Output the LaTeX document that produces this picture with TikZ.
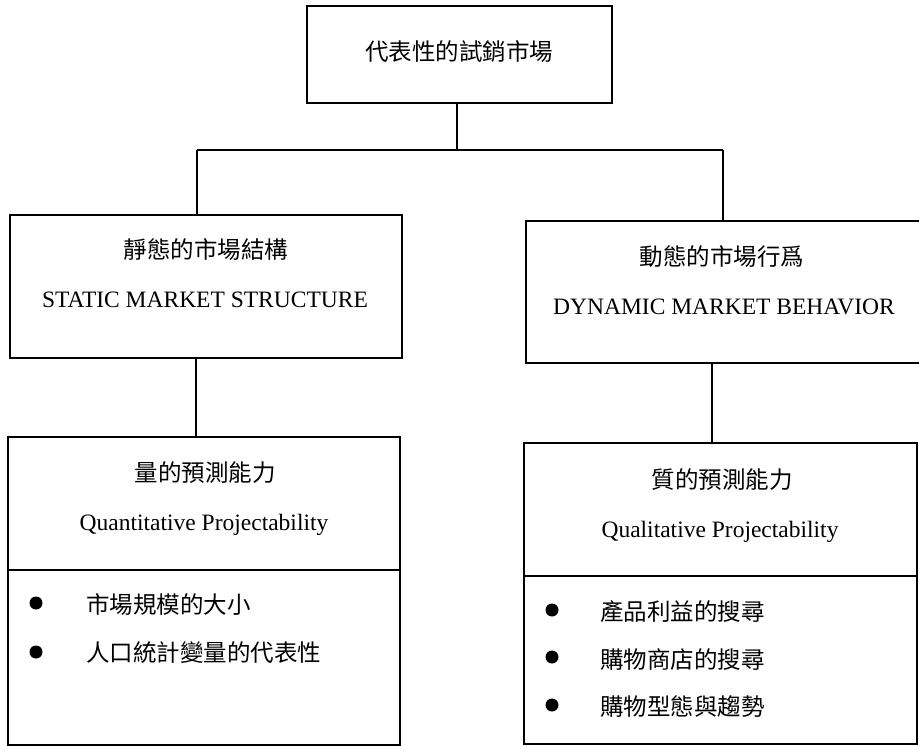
\documentclass[tikz,border=0pt]{standalone}
\usepackage{fontspec}
\setmainfont{Liberation Serif}
\newfontfamily\cjk{Noto Sans CJK TC}
\begin{document}
\begin{tikzpicture}[x=1pt,y=-1pt,
  box/.style={draw=black,line width=1.3pt,minimum width=#1,inner sep=0pt},
  conn/.style={draw=black,line width=1.3pt},
  cjkt/.style={inner sep=0pt,font=\cjk\fontsize{23.5}{26}\selectfont},
  latt/.style={inner sep=0pt,anchor=base,font=\fontsize{23.5}{26}\selectfont},
  itemt/.style={inner sep=0pt,anchor=west,font=\cjk\fontsize{23.5}{26}\selectfont},
  dot/.style={circle,fill=black,inner sep=0pt,minimum size=13pt}]
\useasboundingbox (0,0) rectangle (919,746);
% boxes
\node[box=305pt,minimum height=97pt] (top) at (459.5,54.5) {};
\node[box=392pt,minimum height=143pt] (lm) at (206,286.5) {};
\node[box=395pt,minimum height=142pt] (rm) at (723.5,292) {};
\node[box=392pt,minimum height=133pt] (lla) at (204,503.5) {};
\node[box=392pt,minimum height=175pt] (llb) at (204,657.5) {};
\node[box=393pt,minimum height=133pt] (rla) at (520.5+200,509.5) {};
\node[box=393pt,minimum height=168pt] (rlb) at (520.5+200,660) {};
% texts
\node[cjkt] (t0) at (459,52) {代表性的試銷市場};
\node[cjkt] (t1) at (206,250) {靜態的市場結構};
\node[latt] (t2) at (205,308) {STATIC MARKET STRUCTURE};
\node[cjkt] (t3) at (722,257) {動態的市場行爲};
\node[latt] (t4) at (724,315) {DYNAMIC MARKET BEHAVIOR};
\node[cjkt] (t5) at (205,473) {量的預測能力};
\node[latt] (t6) at (204,530) {Quantitative Projectability};
\node[cjkt] (t7) at (722,480) {質的預測能力};
\node[latt] (t8) at (720,537) {Qualitative Projectability};
% bullets
\node[dot] (b1) at (36,603) {};
\node[itemt] (i1) at (86,605) {市場規模的大小};
\node[dot] (b2) at (36,652) {};
\node[itemt] (i2) at (86,653) {人口統計變量的代表性};
\node[dot] (b3) at (552,610) {};
\node[itemt] (i3) at (600,612) {產品利益的搜尋};
\node[dot] (b4) at (552,657) {};
\node[itemt] (i4) at (600,660) {購物商店的搜尋};
\node[dot] (b5) at (552,705) {};
\node[itemt] (i5) at (600,707) {購物型態與趨勢};
% connectors
\coordinate (j) at (457,150);
\coordinate (jl) at (197,150);
\coordinate (jr) at (723,150);
\draw[conn] (j |- top.south) -- (j);
\draw[conn] (jl) -- (jr);
\draw[conn] (jl) -- (jl |- lm.north);
\draw[conn] (jr) -- (jr |- rm.north);
\coordinate (kl) at (196,400);
\coordinate (kr) at (712,400);
\draw[conn] (kl |- lm.south) -- (kl |- lla.north);
\draw[conn] (kr |- rm.south) -- (kr |- rla.north);
\end{tikzpicture}
\end{document}
